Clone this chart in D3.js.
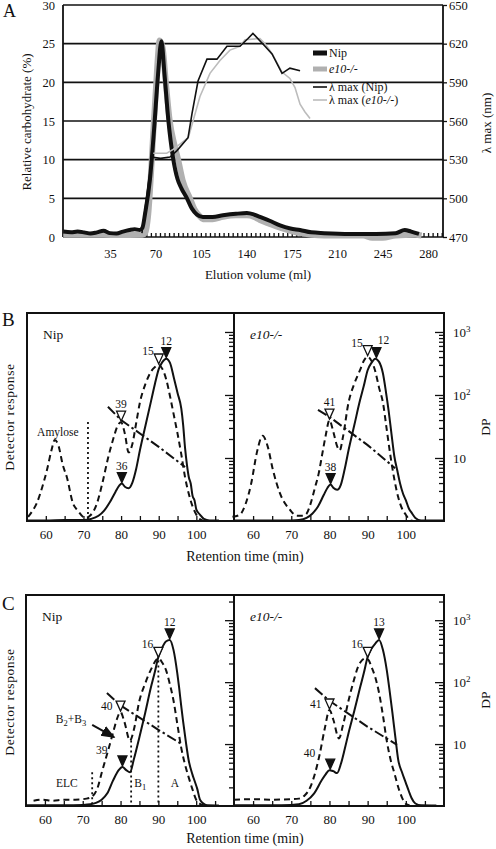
<!DOCTYPE html>
<html><head><meta charset="utf-8">
<script src="https://cdn.jsdelivr.net/npm/d3@7"></script>
<style>
body{margin:0;background:#fff}
svg{display:block}
svg text{font-family:'Liberation Serif','Tinos','DejaVu Serif',serif;fill:#111}
</style>
</head><body>
<svg id="chart" width="496" height="849" font-family="Liberation Serif, Tinos, DejaVu Serif, serif"></svg>
<script>
// ================= DATA =================
// Panel A : elution profile
const aXLabels = [35, 70, 105, 140, 175, 210, 245, 280];
const aYLabels = [0, 5, 10, 15, 20, 25, 30];
const aLambdaLabels = [470, 500, 530, 560, 590, 620, 650];
const aNipCarb = [[-1,0.7],[5,0.6],[10,0.7],[15,0.6],[20,0.45],[25,0.6],[30,0.8],[35,0.5],[40,0.45],[45,0.7],[50,0.9],[54,1.0],[58,0.9],[60,1.2],[62,3],[65.8,7.5],[69,14],[72,21],[74.6,25.3],[77,21],[80,15],[83.5,10.3],[87,7.5],[90,6.3],[94.3,5],[98,3.7],[102,2.9],[106.6,2.6],[114,2.6],[122,2.8],[132,3.0],[140.5,3.1],[146,2.9],[150.5,2.6],[158,2.1],[166,1.5],[174,1.1],[181.4,0.9],[190,0.6],[200,0.5],[220,0.4],[240,0.4],[255,0.5],[262,0.9],[267,0.7],[273,0.4]];
const aE10Carb = [[-1,0.3],[20,0.3],[40,0.25],[60,0.3],[62,0.5],[64.5,3],[66.5,8],[68.5,14],[70.5,19.5],[72,23.5],[73.1,25.4],[75.5,24.5],[78,20],[81,15],[84.5,12],[87.5,10],[91,7.3],[96.6,5],[100,3.6],[104,2.7],[106.6,2.3],[114,2.3],[122,2.6],[132,2.8],[140.5,2.8],[146,2.6],[150.5,2.2],[158,1.7],[166,1.2],[174,0.8],[181.4,0.5],[190,0.3],[200,0.2],[230,0.2],[237,-0.1],[245,-0.1],[255,0.2],[270,0.3],[275,0.2]];
const aNipLambda = [[59.6,473],[67.3,532],[74,531],[81.2,532],[86.6,537],[95.1,547],[98.2,566],[102.8,591],[109.7,608],[117.4,608],[125.1,618],[135.1,618],[141.3,624],[145.1,628],[154.4,618],[159.8,612],[167.5,597],[173.6,601],[181.4,599]];
const aE10Lambda = [[68.3,535],[78.7,535],[83.7,538],[95.3,547],[104.3,579],[112,597],[119.7,607],[127.4,615],[135.1,618],[139,623],[150.5,624],[154.4,620],[160,612],[167.5,598],[173.6,593],[177.5,586],[181.4,573],[185.2,567],[189.1,562]];

// Panels B and C : chromatograms (response in % of panel height, DP on log axis)
const rtLabels = [60, 70, 80, 90, 100];
const rtMinorTicks = [60, 65, 70, 75, 80, 85, 90, 95, 100, 105];
const dpLabels = [10, 100, 1000];

const bNipDashed = [[55.3,2],[56.5,5],[57.6,8.6],[59,16],[60.3,24.5],[61.5,34],[62.4,39],[63.4,36],[64.5,27],[65.6,21],[67.2,8.6],[68.5,5],[70.5,1.5],[72,3],[73.5,8],[75,18],[76.5,30],[78,40],[79,45.5],[80,47.5],[81,42],[82,33],[83,37],[84,47],[85,57],[86.5,66],[88,72],[89,74],[90,75],[91,73],[92,68],[93,60],[94,51],[95,42],[96,32],[97,21],[98,13],[99,7],[100,3],[101,0.8],[102,0]];
const bNipSolid = [[55,0.3],[60,0.3],[65,0.5],[70,0.5],[72,1],[74,2.5],[75.5,5],[77,9],[78.5,14],[79.5,17],[80.2,18],[81,16.5],[82,15.8],[83,18.5],[84,25],[85,34],[86.5,46],[88,58],[89,66],[90,73],[91,76.5],[92,78],[93,76],[94,69],[95,61.5],[96,54],[96.5,46],[97,35],[97.5,27],[98,21],[98.5,18],[99,12],[99.5,10],[100,5.5],[101,3],[102,1],[103.5,0.3],[106,0.3]];
const bNipDP = [[76.5,65],[80,40],[90,15],[97,7.2]];
const bE10Dashed = [[54.6,2],[56.5,3],[58,8],[59.5,18],[61,33],[62.5,41],[63.8,36],[65.2,24.5],[67,13.5],[69.7,5.3],[71.5,2.5],[73,2.5],[74,3.5],[75,8],[76.2,16],[77.2,23],[78,31],[79,41],[80,48.5],[81,43],[82,36],[82.7,34],[83.5,40],[85,57],[86.5,66],[88,72.5],[89,77],[90,79],[91,77],[92,72],[93,64],[94,57],[95,44],[96,31],[97,20],[98,11.5],[99,6],[100,3],[101,0.5],[102,0]];
const bE10Solid = [[55,0.2],[65,0.2],[70,0.3],[72,0.5],[74,1.5],[75.5,3.5],[77,7],[78.5,12.5],[79.5,16],[80.3,17.5],[81,16],[82,15],[83,17.5],[84,25],[85,34],[86.5,46],[88,58],[89,65],[90,72.5],[91,76],[92,78],[93,76.5],[94,71],[94.8,62],[95.5,53],[96.3,41],[97,31],[97.8,24],[98.5,18],[99.3,13],[100,10],[100.8,6],[101.5,4],[102.5,1.5],[104,0.3],[110,0.2]];
const bE10DP = [[77,58],[80,45],[90,16],[97.2,6.9]];

const cNipDashed = [[57,2.5],[59.5,3],[62,2.5],[65,3],[68,3],[71,3.5],[72.5,4.5],[74,9],[75,15.6],[76.5,25],[78,34.6],[79,41],[80,44.5],[81,40],[82.5,31],[83.5,36],[85,50],[86.5,58],[88,64.5],[90,70],[91,68],[92,64.5],[93,58],[94,50],[95,39],[96,28],[97,20],[98,13.7],[99,8],[100,3],[101,1],[102,0.3]];
const cNipSolid = [[55,0.3],[65,0.3],[70,0.5],[72,0.8],[73.5,1.5],[75,3],[76.5,6],[78,12],[79.5,17],[80.5,18.5],[81.5,17],[82.5,16],[83.5,22],[85,32.7],[86.5,44],[88,56],[89,63],[90,70.6],[91,75],[92,78],[93,78.7],[94,74],[95,63],[95.5,56],[96,48],[96.5,40.7],[97.3,30],[98,21.8],[99,15],[99.5,12.3],[100.3,8],[101,3],[102,1],[103,0.3],[106,0.2]];
const cNipDP = [[76.4,67],[80,42],[90,17],[96.5,9.7]];
const cE10Dashed = [[55,3],[60,3.2],[65,3],[70,3.2],[72,3.5],[73.5,5],[75,9],[76.3,16],[77.5,25],[78.8,37],[80,45.5],[81,41],[82.5,32],[83.5,38],[85,50],[86.3,59],[87.5,66],[88.5,69],[89.5,70],[90.3,69],[91,66],[92,61],[93,53.5],[94,43],[95,31],[96,22],[97,15.6],[98,9],[99,4],[100,1],[101,0.3]];
const cE10Solid = [[55,0.3],[65,0.3],[70,0.5],[72,0.8],[74,2.5],[76,6],[78,12.3],[79,15],[80,17],[81,16.5],[82,15.6],[83,20],[84,27],[85,34.6],[86.5,45],[88,56],[89,63],[90,70.6],[91,74.5],[92,77],[93,78.7],[94,74],[95,64.5],[95.8,54],[96.5,44],[97.3,32],[98,22],[99,16],[100,11],[100.8,7],[101.5,3.8],[102.5,1.2],[104,0.3],[108,0.2]];
const cE10DP = [[76.2,80],[80,50],[90,19],[97.7,9.7]];

// peak markers: retention time, response, DP label, open/filled, label side
const bNipMarkers = [{t:80,r:47.5,label:"39",open:true,side:"above"},{t:80.2,r:18,label:"36",open:false,side:"above"},{t:90,r:75,label:"15",open:true,side:"upleft"},{t:92,r:78,label:"12",open:false,side:"above"}];
const bE10Markers = [{t:80,r:48.5,label:"41",open:true,side:"above"},{t:80.3,r:17.5,label:"38",open:false,side:"above"},{t:90,r:79,label:"15",open:true,side:"upleft"},{t:92.3,r:78,label:"12",open:false,side:"aboveright"}];
const cNipMarkers = [{t:80,r:44.5,label:"40",open:true,side:"left"},{t:80.5,r:18.5,label:"39",open:false,side:"farleft"},{t:90,r:70,label:"16",open:true,side:"upleft"},{t:93,r:78.7,label:"12",open:false,side:"above"}];
const cE10Markers = [{t:80,r:45.5,label:"41",open:true,side:"left"},{t:80.2,r:17,label:"40",open:false,side:"farleft"},{t:90,r:70,label:"16",open:true,side:"upleft"},{t:93,r:78.7,label:"13",open:false,side:"above"}];

// dotted fraction cut lines [time, top response]
const bNipCuts = [[71.2,47.6]];
const cNipCuts = [[72.5,16],[82.8,31],[90,69]];
const bNipNotes = [{t:63.2,r:41,text:"Amylose"}];
const cNipNotes = [{t:65.8,r:9,text:"ELC"},{t:94.4,r:9,text:"A"}];
const cNipSubNotes = [{t:85.2,r:9,parts:[["B",""],["1","sub"]]},{t:66.9,r:39.3,parts:[["B",""],["2","sub"],["+B",""],["3","sub"]]}];
const cNipArrow = [[72.5,38.5],[78.3,32.6]];

// ================= DRAW =================
const svg = d3.select("#chart");
const BLACK = "#111", GRAY = "#b0b0b0", LGRAY = "#bcbcbc";
const SERIF = "Liberation Serif, Tinos, DejaVu Serif, serif";

svg.append("defs").append("marker").attr("id","arr").attr("viewBox","0 0 10 10")
  .attr("refX",9).attr("refY",5).attr("markerWidth",7).attr("markerHeight",7)
  .attr("orient","auto").append("path").attr("d","M0,1 L10,5 L0,9 Z").attr("fill",BLACK);

function styleAxis(g, size){
  g.attr("font-family",SERIF).attr("font-size",size);
  g.select(".domain").remove();
  g.selectAll("line").attr("stroke",BLACK).attr("stroke-width",1.3);
  g.selectAll("text").attr("fill",BLACK).attr("font-family",SERIF);
}
function txt(sel){ return sel.append("text").attr("font-family",SERIF); }

// ---------- Panel A ----------
const A = {l:63, r:443, t:5, b:237};
const xA = d3.scaleLinear().domain([-1.2, 291.5]).range([A.l, A.r]);
const yA = d3.scaleLinear().domain([0, 30]).range([A.b, A.t]);
const yLam = d3.scaleLinear().domain([470, 650]).range([A.b, A.t]);
const gA = svg.append("g");

gA.selectAll("line.grid").data(aYLabels).join("line").attr("class","grid")
  .attr("x1",A.l).attr("x2",A.r).attr("y1",d=>yA(d)).attr("y2",d=>yA(d))
  .attr("stroke",BLACK).attr("stroke-width",1.6);
gA.append("line").attr("x1",A.l).attr("x2",A.l).attr("y1",A.t).attr("y2",A.b).attr("stroke",BLACK).attr("stroke-width",1.8);
gA.append("line").attr("x1",A.r).attr("x2",A.r).attr("y1",A.t).attr("y2",A.b).attr("stroke",BLACK).attr("stroke-width",1.8);

gA.append("g").attr("transform",`translate(${A.l},0)`)
  .call(d3.axisLeft(yA).tickValues(aYLabels).tickSize(0).tickPadding(8)).call(g=>styleAxis(g,12.5));
gA.append("g").attr("transform",`translate(${A.r},0)`)
  .call(d3.axisRight(yLam).tickValues(aLambdaLabels).tickSize(4).tickPadding(2)).call(g=>styleAxis(g,12.5));
gA.append("g").attr("transform",`translate(0,${A.b})`)
  .call(d3.axisBottom(xA).tickValues(d3.range(0, 291, 3.5)).tickSize(-4).tickFormat("")).call(g=>styleAxis(g,12.5));
gA.append("g").attr("transform",`translate(0,${A.b})`)
  .call(d3.axisBottom(xA).tickValues(aXLabels).tickSize(0).tickPadding(12)).call(g=>styleAxis(g,12.5));

const lineA = d3.line().x(d=>xA(d[0])).y(d=>yA(d[1])).curve(d3.curveMonotoneX);
const lineLam = d3.line().x(d=>xA(d[0])).y(d=>yLam(d[1]));
gA.append("path").attr("d",lineA(aE10Carb)).attr("fill","none").attr("stroke",GRAY).attr("stroke-width",6).attr("stroke-linejoin","round");
gA.append("path").attr("d",lineA(aNipCarb)).attr("fill","none").attr("stroke",BLACK).attr("stroke-width",4).attr("stroke-linejoin","round");
gA.append("path").attr("d",lineLam(aE10Lambda)).attr("fill","none").attr("stroke",LGRAY).attr("stroke-width",1.6);
gA.append("path").attr("d",lineLam(aNipLambda)).attr("fill","none").attr("stroke",BLACK).attr("stroke-width",1.6);

// legend
const legRows = [
  {y:53, stroke:BLACK, w:5, parts:[["Nip",false]]},
  {y:69, stroke:GRAY, w:5, parts:[["e10-/-",true]]},
  {y:87, stroke:BLACK, w:1.6, parts:[["λ max (Nip)",false]]},
  {y:100, stroke:LGRAY, w:1.6, parts:[["λ max (",false],["e10-/-",true],[")",false]]}
];
legRows.forEach(row=>{
  gA.append("line").attr("x1",313).attr("x2",327).attr("y1",row.y).attr("y2",row.y).attr("stroke",row.stroke).attr("stroke-width",row.w);
  const t = txt(gA).attr("x",329).attr("y",row.y+4).attr("font-size",12);
  row.parts.forEach(p=>t.append("tspan").attr("font-style",p[1]?"italic":"normal").text(p[0]));
});

txt(svg).attr("x",3).attr("y",17).attr("font-size",18).text("A");
txt(svg).attr("transform","translate(31,122) rotate(-90)").attr("text-anchor","middle").attr("font-size",13).text("Relative carbohydrate (%)");
txt(svg).attr("transform","translate(491,123) rotate(-90)").attr("text-anchor","middle").attr("font-size",13).text("λ max (nm)");
txt(svg).attr("x",258).attr("y",279).attr("text-anchor","middle").attr("font-size",13).text("Elution volume (ml)");

// ---------- Panels B / C ----------
function triPath(ax, ay){ return `M${ax-4.5},${ay-10} L${ax+4.5},${ay-10} L${ax},${ay} Z`; }
const labelPlace = {
  above:     (ax,ay)=>({x:ax,   y:ay-13, anchor:"middle"}),
  aboveright:(ax,ay)=>({x:ax+7, y:ay-14, anchor:"middle"}),
  upleft:    (ax,ay)=>({x:ax-5, y:ay-9,  anchor:"end"}),
  left:      (ax,ay)=>({x:ax-8, y:ay-1,  anchor:"end"}),
  farleft:   (ax,ay)=>({x:ax-15,y:ay-12, anchor:"end"})
};

function panel(cfg){
  const {l, r, t, b, dpMax} = cfg;
  const x = d3.scaleLinear().domain([55,110]).range([l,r]);
  const y = d3.scaleLinear().domain([0,100]).range([b,t]);
  const dp = d3.scaleLog().domain([1,dpMax]).range([b,t]);
  const g = svg.append("g");
  const line = d3.line().x(d=>x(d[0])).y(d=>y(d[1])).curve(d3.curveMonotoneX);
  const dpLine = d3.line().x(d=>x(d[0])).y(d=>dp(d[1]));

  (cfg.cuts||[]).forEach(c=>{
    g.append("line").attr("x1",x(c[0])).attr("x2",x(c[0])).attr("y1",y(c[1])).attr("y2",b)
      .attr("stroke",BLACK).attr("stroke-width",1.8).attr("stroke-dasharray","2,3");
  });
  g.append("path").attr("d",line(cfg.dashed)).attr("fill","none").attr("stroke",BLACK).attr("stroke-width",2).attr("stroke-dasharray","6,4");
  g.append("path").attr("d",line(cfg.solid)).attr("fill","none").attr("stroke",BLACK).attr("stroke-width",2);
  g.append("path").attr("d",dpLine(cfg.dp)).attr("fill","none").attr("stroke",BLACK).attr("stroke-width",2).attr("stroke-dasharray","10,3,2.5,3");

  cfg.markers.forEach(m=>{
    const ax = x(m.t), ay = y(m.r)-1;
    g.append("path").attr("d",triPath(ax,ay)).attr("fill",m.open?"#fff":BLACK).attr("stroke",BLACK).attr("stroke-width",1.3);
    const p = labelPlace[m.side](ax,ay);
    txt(g).attr("x",p.x).attr("y",p.y).attr("text-anchor",p.anchor).attr("font-size",11.5).text(m.label);
  });

  (cfg.notes||[]).forEach(n=>{
    txt(g).attr("x",x(n.t)).attr("y",y(n.r)).attr("text-anchor","middle").attr("font-size",11.5).text(n.text);
  });
  (cfg.subNotes||[]).forEach(n=>{
    const tx = txt(g).attr("x",x(n.t)).attr("y",y(n.r)).attr("text-anchor","middle").attr("font-size",11.5);
    let shifted = false;
    n.parts.forEach(p=>{
      const ts = tx.append("tspan").text(p[0]);
      if (p[1]==="sub"){ ts.attr("font-size",8.5).attr("dy",3); shifted = true; }
      else if (shifted){ ts.attr("dy",-3); shifted = false; }
    });
  });
  if (cfg.arrow){
    g.append("line").attr("x1",x(cfg.arrow[0][0])).attr("y1",y(cfg.arrow[0][1]))
      .attr("x2",x(cfg.arrow[1][0])).attr("y2",y(cfg.arrow[1][1]))
      .attr("stroke",BLACK).attr("stroke-width",2).attr("marker-end","url(#arr)");
  }

  g.append("rect").attr("x",l).attr("y",t).attr("width",r-l).attr("height",b-t)
    .attr("fill","none").attr("stroke",BLACK).attr("stroke-width",2);

  g.append("g").attr("transform",`translate(0,${b})`)
    .call(d3.axisBottom(x).tickValues(rtMinorTicks).tickSize(-5).tickFormat("")).call(a=>styleAxis(a,13));
  g.append("g").attr("transform",`translate(0,${b})`)
    .call(d3.axisBottom(x).tickValues(rtLabels).tickSize(0).tickPadding(9)).call(a=>styleAxis(a,13));

  const minor = [];
  for (let e=0;e<4;e++) for (let k=2;k<=9;k++){ const v=k*Math.pow(10,e); if (v<dpMax) minor.push(v); }
  g.append("g").attr("transform",`translate(${r},0)`)
    .call(d3.axisLeft(dp).tickValues(minor).tickSize(5).tickFormat("")).call(a=>styleAxis(a,12));
  g.append("g").attr("transform",`translate(${r},0)`)
    .call(d3.axisLeft(dp).tickValues(dpLabels).tickSize(9).tickFormat("")).call(a=>styleAxis(a,12));

  if (cfg.dpText){
    const ax = g.append("g").attr("transform",`translate(${r},0)`)
      .call(d3.axisRight(dp).tickValues(dpLabels).tickSize(0).tickPadding(9)).call(a=>styleAxis(a,13));
    ax.selectAll("text").each(function(d){
      const s = d3.select(this); s.text("10");
      const e = Math.round(Math.log10(d));
      if (e>1) s.append("tspan").attr("dy","-0.55em").attr("font-size",9).text(e);
    });
  }
  const nt = txt(g).attr("x",l+16).attr("y",t+26).attr("font-size",13.5);
  nt.append("tspan").attr("font-style",cfg.italic?"italic":"normal").text(cfg.name);
}

// Panel B
panel({l:27,r:234,t:313,b:521,dpMax:2000,dashed:bNipDashed,solid:bNipSolid,dp:bNipDP,markers:bNipMarkers,cuts:bNipCuts,notes:bNipNotes,name:"Nip",italic:false});
panel({l:234,r:444,t:313,b:521,dpMax:2000,dashed:bE10Dashed,solid:bE10Solid,dp:bE10DP,markers:bE10Markers,name:"e10-/-",italic:true,dpText:true});
// Panel C
panel({l:26,r:234,t:595,b:806,dpMax:2550,dashed:cNipDashed,solid:cNipSolid,dp:cNipDP,markers:cNipMarkers,cuts:cNipCuts,notes:cNipNotes,subNotes:cNipSubNotes,arrow:cNipArrow,name:"Nip",italic:false});
panel({l:234,r:444,t:595,b:806,dpMax:2550,dashed:cE10Dashed,solid:cE10Solid,dp:cE10DP,markers:cE10Markers,name:"e10-/-",italic:true,dpText:true});

// row labels and titles
txt(svg).attr("x",2).attr("y",326).attr("font-size",19).text("B");
txt(svg).attr("x",2).attr("y",610).attr("font-size",19).text("C");
txt(svg).attr("transform","translate(14,417) rotate(-90)").attr("text-anchor","middle").attr("font-size",13.5).attr("letter-spacing",0.6).text("Detector response");
txt(svg).attr("transform","translate(14,702) rotate(-90)").attr("text-anchor","middle").attr("font-size",13.5).attr("letter-spacing",0.6).text("Detector response");
txt(svg).attr("transform","translate(490,427) rotate(-90)").attr("text-anchor","middle").attr("font-size",13.5).text("DP");
txt(svg).attr("transform","translate(490,700) rotate(-90)").attr("text-anchor","middle").attr("font-size",13.5).text("DP");
txt(svg).attr("x",245).attr("y",561).attr("text-anchor","middle").attr("font-size",14).text("Retention time (min)");
txt(svg).attr("x",245).attr("y",843).attr("text-anchor","middle").attr("font-size",14).text("Retention time (min)");
</script>
</body></html>
